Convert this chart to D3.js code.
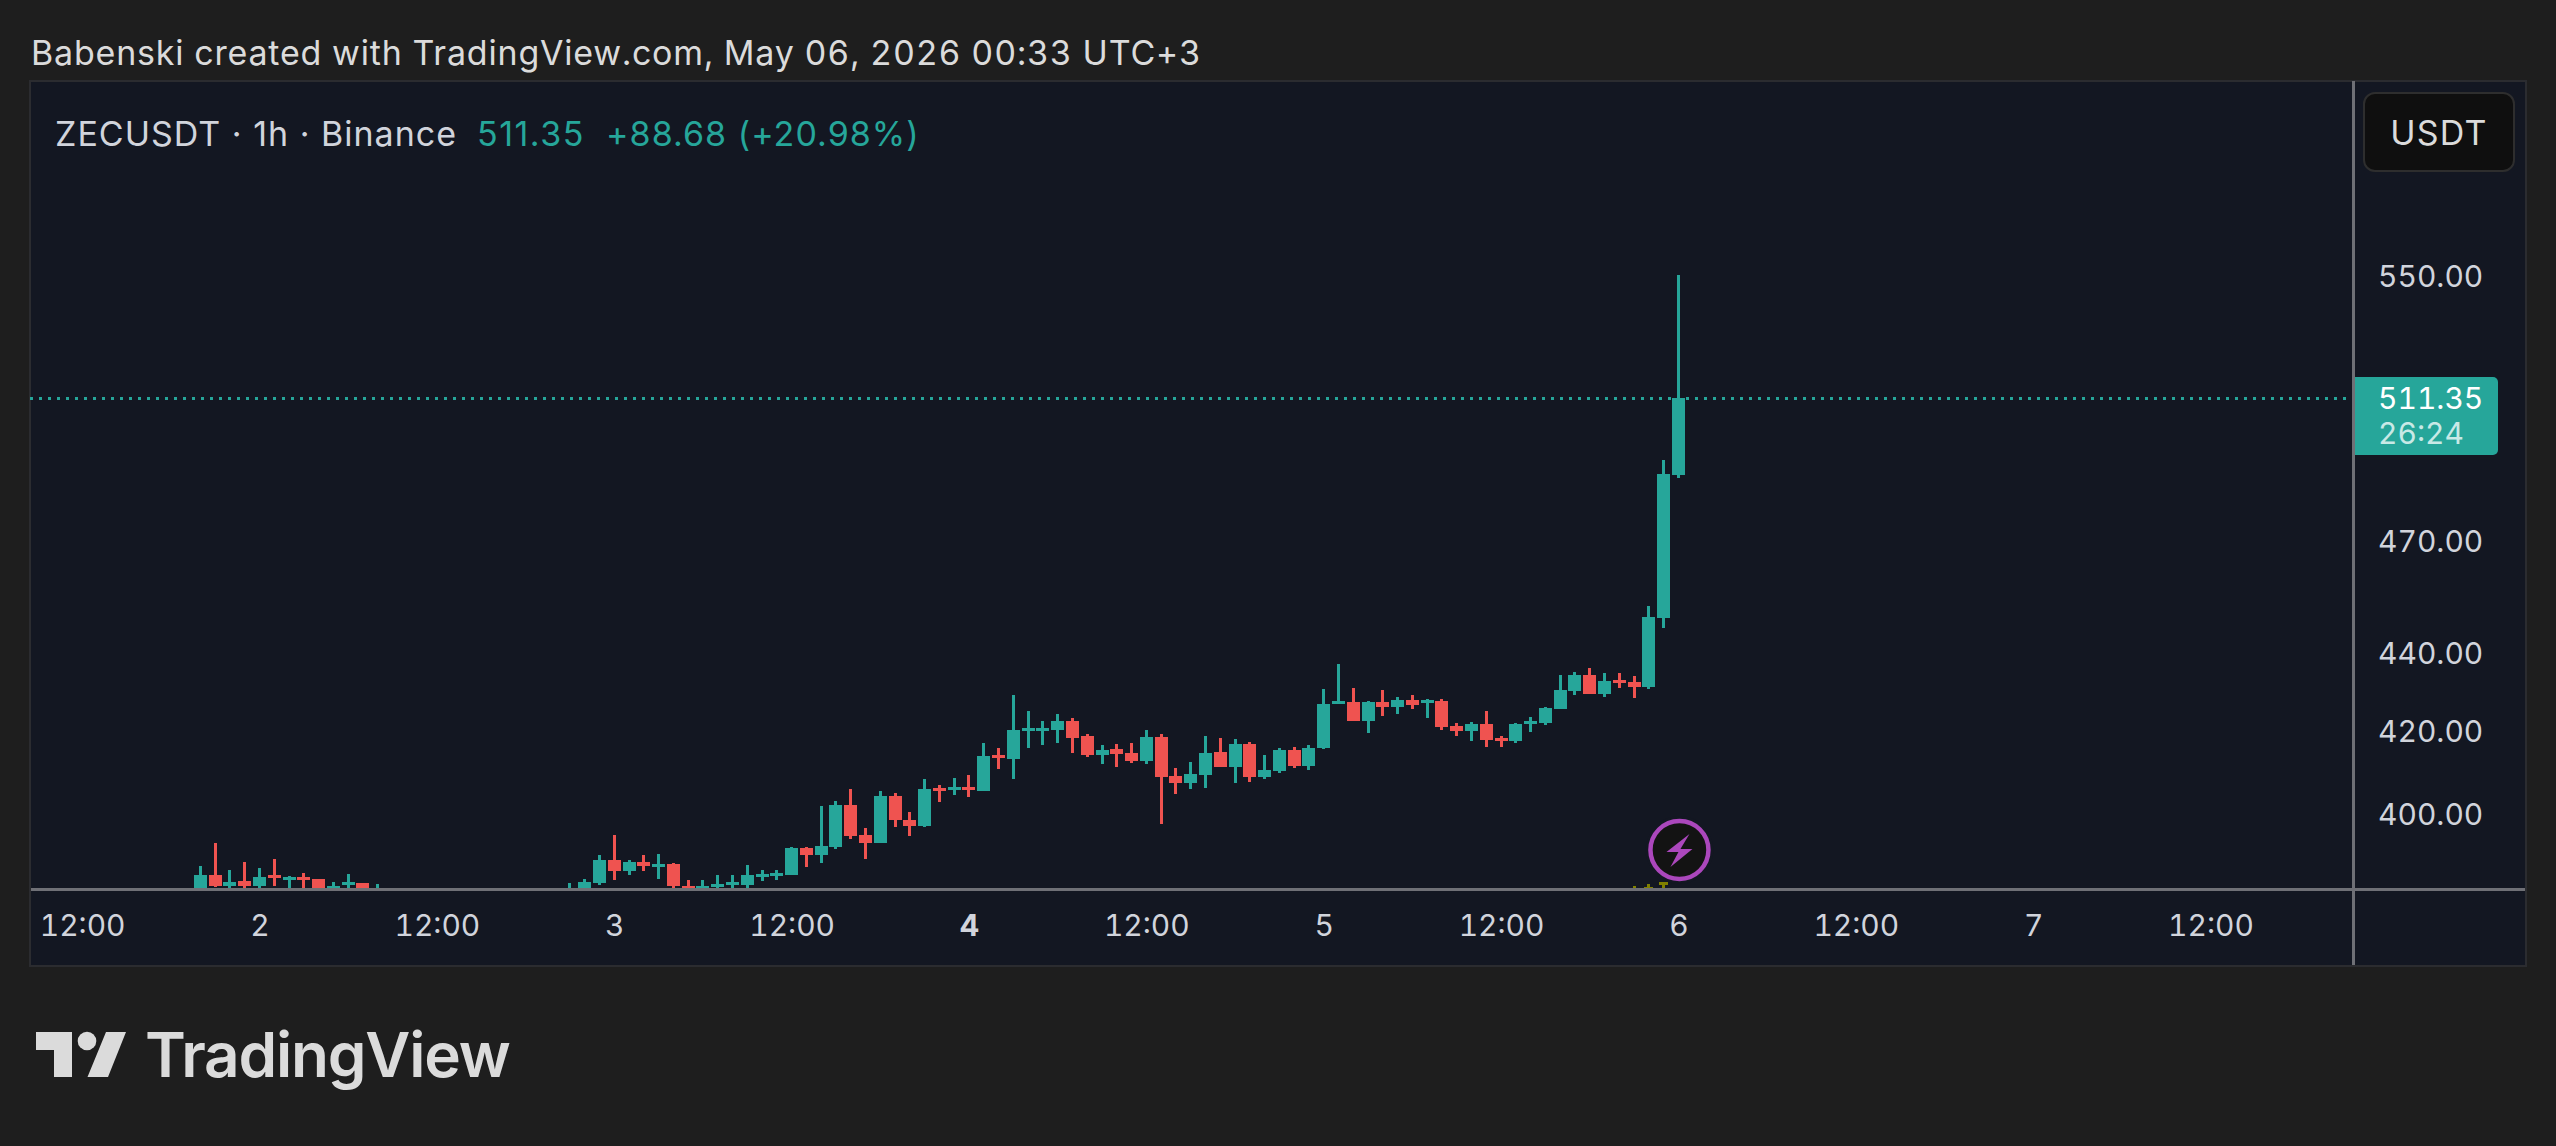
<!DOCTYPE html>
<html>
<head>
<meta charset="utf-8">
<script src="https://cdn.jsdelivr.net/npm/d3@7"></script>
<style>
  html, body { margin: 0; padding: 0; background: #1e1e1e; overflow: hidden; }
  text { font-family: Inter, "Noto Sans", sans-serif; font-variant-numeric: tabular-nums; }
  text.legend { font-variant-numeric: normal; }
</style>
</head>
<body>
<div id="chart"></div>
<script>
    // hours counted from May 2 00:00, candles under the axis line are left out
    var hours = [-4,-3,-2,-1,0,1,2,3,4,5,6,7,8,21,22,23,24,25,26,27,28,29,30,31,32,33,34,35,36,37,38,39,40,41,42,43,44,45,46,47,48,49,50,51,52,53,54,55,56,57,58,59,60,61,62,63,64,65,66,67,68,69,70,71,72,73,74,75,76,77,78,79,80,81,82,83,84,85,86,87,88,89,90,91,92,93,94,95,96];
    var opens = [381.5,385.6,383.1,384.3,383.1,385.6,384.5,385.2,384.7,381.8,383.4,383.8,380.8,380.9,381.7,383.8,389.1,386.6,388.6,387.5,388.1,383.1,381.8,382.9,383.4,383.4,385.2,385.4,385.6,391.9,390.2,392.1,402.0,394.9,393.0,404.1,398.4,397.0,406.0,405.5,406.2,405.3,414.0,413.1,420.0,420.0,420.2,422.4,418.7,414.0,415.5,414.5,412.6,418.4,408.9,407.2,409.2,414.7,411.1,416.7,408.7,410.1,415.2,411.4,415.7,426.7,427.2,422.4,427.2,426.0,427.7,427.0,427.5,421.2,420.0,421.7,418.2,417.5,421.7,422.0,425.4,430.0,434.1,429.2,432.8,432.3,431.0,449.0,488.7];
    var highs = [387.7,393.0,386.8,388.6,387.2,389.3,385.4,386.1,384.7,384.0,385.9,383.8,383.6,383.8,384.7,390.2,394.9,389.1,390.2,390.5,388.4,384.5,384.5,385.6,385.6,387.9,386.8,386.8,392.1,392.1,401.7,402.9,405.8,396.5,405.3,404.8,400.3,408.2,406.8,408.4,409.2,417.0,415.7,429.0,425.0,422.4,424.2,423.2,419.2,416.5,416.7,417.0,420.2,419.2,410.9,412.3,418.7,418.2,418.0,417.2,414.0,415.7,416.0,416.5,430.5,436.9,430.8,427.5,430.3,428.5,429.0,428.0,428.0,422.0,422.2,425.0,418.7,422.0,423.4,426.0,434.1,434.9,435.9,434.6,434.6,433.8,452.2,493.0,550.0];
    var lows = [381.0,382.9,381.5,381.8,382.7,383.1,381.8,381.9,381.6,381.5,381.7,381.2,380.5,380.6,381.4,383.4,384.5,385.6,386.6,384.7,382.7,381.5,381.4,381.6,381.7,381.9,384.3,384.5,385.6,387.5,388.4,391.6,393.9,389.3,393.0,396.7,394.6,396.7,402.7,404.3,403.9,405.3,410.6,408.2,415.7,416.5,417.0,414.5,413.5,411.8,411.1,412.1,411.8,397.4,404.6,405.8,406.0,411.1,407.2,407.5,408.2,409.6,410.9,410.4,415.5,426.7,422.4,419.4,423.7,424.2,425.4,423.2,420.2,418.7,417.5,416.0,416.0,417.0,419.7,421.4,425.4,429.0,429.2,428.5,430.8,428.2,430.5,446.4,487.8];
    var closes = [385.6,383.1,384.0,383.1,385.2,385.0,385.2,384.5,381.8,383.1,384.0,381.6,381.6,381.8,384.0,389.1,386.6,388.6,387.7,388.1,383.1,381.8,383.1,383.6,384.0,385.6,385.9,386.1,391.9,390.2,392.4,402.0,394.6,393.0,404.1,398.4,397.0,405.8,405.3,406.2,405.5,413.8,413.3,420.2,420.7,420.7,422.4,418.2,414.0,415.3,414.3,412.6,418.4,408.7,407.2,409.4,414.5,411.1,416.7,408.7,410.4,415.2,411.4,415.7,426.7,427.5,422.4,427.2,426.0,427.7,426.4,427.7,421.0,420.0,421.7,417.7,417.5,421.7,422.4,425.7,430.3,434.1,429.2,432.6,432.1,431.0,449.3,489.0,511.35];

    // the small olive series at the axis line
    var oliveHours = [93, 94, 95];
    var oliveOpens = [381.5, 381.8, 383.4];
    var oliveHighs = [383.15, 383.6, 384.05];
    var oliveLows = [381.0, 381.5, 381.8];
    var oliveCloses = [382.0, 382.9, 384.05];

    // axis ticks
    var priceTicks = [550, 470, 440, 420, 400];
    var timeTicks = [-12, 0, 12, 24, 36, 48, 60, 72, 84, 96, 108, 120, 132];
    var timeLabels = ["12:00", "2", "12:00", "3", "12:00", "4", "12:00", "5", "12:00", "6", "12:00", "7", "12:00"];
    var boldLabel = "4";
    var lastPrice = 511.35;
    var eventHour = 96;

    var green = "#26a69a", red = "#ef5350", olive = "#808000";

    var svg = d3.select("#chart")
      .append("svg")
      .attr("width", 2556)
      .attr("height", 1146);

    // pane
    svg.append("rect")
      .attr("x", 30).attr("y", 81)
      .attr("width", 2496).attr("height", 885)
      .attr("fill", "#131722")
      .attr("stroke", "#2b2c30")
      .attr("stroke-width", 2);

    // scales
    var x = d3.scaleLinear()
      .domain([-15.46, 141.57])
      .range([31, 2352]);

    var y = d3.scaleLog()
      .domain([400, 550])
      .range([813.35, 275]);

    svg.append("clipPath").attr("id", "plot")
      .append("rect")
      .attr("x", 31).attr("y", 81)
      .attr("width", 2321).attr("height", 807);

    // last price line
    svg.append("line")
      .attr("x1", 30).attr("x2", 2352)
      .attr("y1", Math.round(y(lastPrice)) + 0.5)
      .attr("y2", Math.round(y(lastPrice)) + 0.5)
      .attr("stroke", green)
      .attr("stroke-width", 3)
      .attr("stroke-dasharray", "3 6");

    var plot = svg.append("g")
      .attr("clip-path", "url(#plot)")
      .attr("shape-rendering", "crispEdges");

    // draw one set of candles
    function drawCandles(hrs, o, h, l, c, bodyW, color) {
      var data = hrs.map(function (d, i) {
        return { hour: d, open: o[i], high: h[i], low: l[i], close: c[i] };
      });
      var g = plot.append("g").selectAll("g")
        .data(data)
        .enter()
        .append("g")
        .attr("fill", function (d) { return color || (d.close >= d.open ? green : red); });

      g.append("rect")
        .attr("x", function (d) { return Math.round(x(d.hour) - 1.5); })
        .attr("y", function (d) { return Math.round(y(d.high)); })
        .attr("width", 3)
        .attr("height", function (d) { return Math.max(0, Math.round(y(d.low)) - Math.round(y(d.high))); });

      g.append("rect")
        .attr("x", function (d) { return Math.round(x(d.hour) - bodyW / 2); })
        .attr("y", function (d) { return Math.round(y(Math.max(d.open, d.close))); })
        .attr("width", bodyW)
        .attr("height", function (d) {
          return Math.max(3, Math.round(y(Math.min(d.open, d.close))) - Math.round(y(Math.max(d.open, d.close))));
        });
    }

    drawCandles(oliveHours, oliveOpens, oliveHighs, oliveLows, oliveCloses, 9, olive);
    drawCandles(hours, opens, highs, lows, closes, 13);

    // time axis
    var xAxis = svg.append("g")
      .attr("transform", "translate(0,890)")
      .call(d3.axisBottom(x).tickValues(timeTicks).tickSize(0).tickPadding(25)
        .tickFormat(function (d, i) { return timeLabels[i]; }));
    xAxis.select(".domain").remove();
    xAxis.selectAll("text")
      .attr("fill", "#d1d4dc")
      .attr("font-size", 30)
      .attr("font-family", "Inter")
      .attr("font-weight", function (d, i) { return timeLabels[i] === boldLabel ? 700 : 400; });

    // price axis
    var yAxis = svg.append("g")
      .attr("transform", "translate(2355,1.5)")
      .call(d3.axisRight(y).tickValues(priceTicks).tickSize(0).tickPadding(23)
        .tickFormat(d3.format(".2f")));
    yAxis.select(".domain").remove();
    yAxis.selectAll("text")
      .attr("fill", "#d1d4dc")
      .attr("font-size", 30)
      .attr("font-family", "Inter");

    // axis lines
    svg.append("rect").attr("x", 31).attr("y", 888).attr("width", 2494).attr("height", 3).attr("fill", "#6f7076");
    svg.append("rect").attr("x", 2352).attr("y", 81).attr("width", 3).attr("height", 884).attr("fill", "#6f7076");

    // lightning event mark
    var mark = svg.append("g")
      .attr("transform", "translate(" + (x(eventHour) + 1) + ",850)");
    mark.append("circle").attr("r", 34).attr("fill", "#131722");
    mark.append("circle").attr("r", 29).attr("fill", "#131313")
      .attr("stroke", "#ab47bc").attr("stroke-width", 4.5);
    mark.append("path")
      .attr("d", "M10,-16L-13,2L-1,2L-9,17L13,-1L1,-1Z")
      .attr("fill", "#ab47bc");

    // last price label
    var labelY = Math.round(y(lastPrice));
    svg.append("path")
      .attr("d", "M2355," + (labelY - 21) + "h138a5,5 0 0 1 5,5v68a5,5 0 0 1 -5,5h-138Z")
      .attr("fill", green);
    svg.append("text")
      .attr("x", 2378).attr("y", labelY + 11)
      .attr("font-size", 30).attr("fill", "#ffffff")
      .text(d3.format(".2f")(lastPrice));
    svg.append("text")
      .attr("x", 2378).attr("y", labelY + 46)
      .attr("font-size", 30).attr("fill", "#c8e9e6")
      .text("26:24");

    // currency button
    svg.append("rect")
      .attr("x", 2364).attr("y", 93)
      .attr("width", 150).attr("height", 78)
      .attr("rx", 11)
      .attr("fill", "#0f0f0f")
      .attr("stroke", "#2e2e2e")
      .attr("stroke-width", 2);
    svg.append("text")
      .attr("x", 2439).attr("y", 145)
      .attr("text-anchor", "middle")
      .attr("font-size", 34).attr("letter-spacing", 1.2).attr("fill", "#dbdbdb")
      .text("USDT");

    // header and legend
    svg.append("text")
      .attr("x", 31).attr("y", 65)
      .attr("font-size", 34).attr("letter-spacing", 0.8).attr("fill", "#dbdbdb")
      .text("Babenski created with TradingView.com, May 06, 2026 00:33 UTC+3");
    svg.append("text").attr("class", "legend")
      .attr("x", 55).attr("y", 146)
      .attr("font-size", 34).attr("letter-spacing", 1).attr("fill", "#d1d4dc")
      .text("ZECUSDT · 1h · Binance");
    svg.append("text").attr("class", "legend")
      .attr("x", 477).attr("y", 146)
      .attr("font-size", 34).attr("letter-spacing", 1.5).attr("fill", green)
      .text(d3.format(".2f")(lastPrice));
    svg.append("text").attr("class", "legend")
      .attr("x", 606).attr("y", 146)
      .attr("font-size", 34).attr("letter-spacing", 1.05).attr("fill", green)
      .text("+88.68 (+20.98%)");

    // logo
    svg.append("path")
      .attr("d", "M36,1032H72V1077H54V1050H36ZM106,1032H126L108,1077H87.5Z")
      .attr("fill", "#dbdbdb");
    svg.append("circle")
      .attr("cx", 87).attr("cy", 1041).attr("r", 9.3)
      .attr("fill", "#dbdbdb");
    svg.append("text")
      .attr("x", 145).attr("y", 1077)
      .attr("font-size", 62).attr("font-weight", 600)
      .attr("letter-spacing", -1.2)
      .attr("fill", "#dbdbdb")
      .text("TradingView");
  </script>
</body>
</html>
